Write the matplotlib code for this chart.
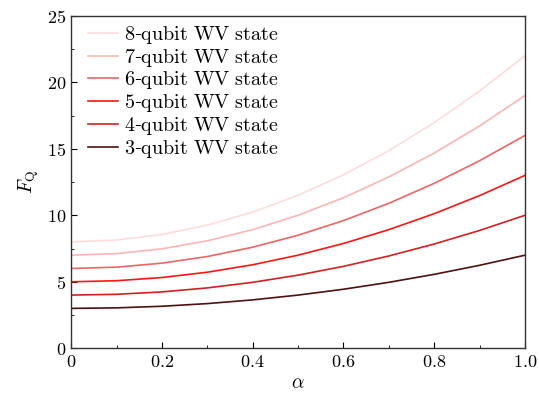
import numpy as np
import matplotlib
matplotlib.use("Agg")
import matplotlib.pyplot as plt
from matplotlib.ticker import MultipleLocator, FuncFormatter

plt.rcParams["mathtext.fontset"] = "cm"
plt.rcParams["font.family"] = "serif"
plt.rcParams["font.serif"] = ["DejaVu Serif"]

# values
alpha = [0.0, 0.1, 0.2, 0.3, 0.4, 0.5, 0.6, 0.7, 0.8, 0.9, 1.0]
fq_3 = [3.0, 3.04, 3.16, 3.36, 3.64, 4.0, 4.44, 4.96, 5.56, 6.24, 7.0]
fq_4 = [4.0, 4.06, 4.24, 4.54, 4.96, 5.5, 6.16, 6.94, 7.84, 8.86, 10.0]
fq_5 = [5.0, 5.08, 5.32, 5.72, 6.28, 7.0, 7.88, 8.92, 10.12, 11.48, 13.0]
fq_6 = [6.0, 6.1, 6.4, 6.9, 7.6, 8.5, 9.6, 10.9, 12.4, 14.1, 16.0]
fq_7 = [7.0, 7.12, 7.48, 8.08, 8.92, 10.0, 11.32, 12.88, 14.68, 16.72, 19.0]
fq_8 = [8.0, 8.14, 8.56, 9.26, 10.24, 11.5, 13.04, 14.86, 16.96, 19.34, 22.0]

qubits = [8, 7, 6, 5, 4, 3]
series = [fq_8, fq_7, fq_6, fq_5, fq_4, fq_3]
colors = ["#ffdcdc", "#ffb4b4", "#f06464", "#ff1414", "#d42020", "#501010"]

fig = plt.figure(figsize=(5.39, 3.94), dpi=100)
ax = fig.add_axes([0.132, 0.116, 0.842, 0.844])

for y, n, c in zip(series, qubits, colors):
    lab = r"$\mathrm{%d}$-$\mathrm{qubit\ WV\ state}$" % n
    ax.plot(alpha, y, color=c, lw=1.2, label=lab)

ax.set_xlim(0, 1)
ax.set_ylim(0, 25)
ax.xaxis.set_major_locator(MultipleLocator(0.2))
ax.xaxis.set_minor_locator(MultipleLocator(0.1))
ax.yaxis.set_major_locator(MultipleLocator(5))
ax.yaxis.set_minor_locator(MultipleLocator(2.5))

def xfmt(v, pos):
    if abs(v) < 1e-9:
        return r"$0$"
    return r"$%.1f$" % v

ax.xaxis.set_major_formatter(FuncFormatter(xfmt))
ax.yaxis.set_major_formatter(FuncFormatter(lambda v, p: r"$%d$" % v))
ax.tick_params(which="both", direction="in", top=False, right=False, labelsize=13)
ax.tick_params(which="major", length=4)
ax.tick_params(which="minor", length=2.5)
for s in ax.spines.values():
    s.set_color("#333333")
    s.set_linewidth(1.0)

ax.set_xlabel(r"$\alpha$", fontsize=14, labelpad=2)
ax.set_ylabel(r"$F_\mathrm{Q}$", fontsize=14, labelpad=4)

ax.legend(loc="upper left", bbox_to_anchor=(0.02, 1.0), frameon=False,
          fontsize=14.5, handlelength=1.5, labelspacing=0.04,
          borderaxespad=0.0, handletextpad=0.25)

fig.savefig("out.png", dpi=100)
